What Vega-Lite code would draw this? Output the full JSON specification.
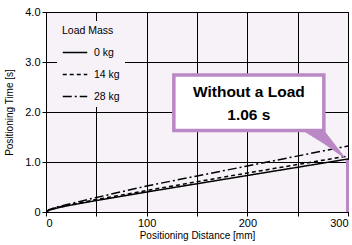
{
  "$schema": "https://vega.github.io/schema/vega-lite/v6.json",
  "width": 302,
  "height": 200,
  "autosize": {"type": "none"},
  "padding": {"left": 46, "top": 12, "right": 4, "bottom": 33},
  "background": "white",
  "config": {
    "font": "Liberation Sans",
    "view": {"fill": "#f6f2f8", "stroke": "black", "strokeWidth": 1},
    "axis": {
      "grid": true, "gridColor": "black", "gridOpacity": 1, "gridWidth": 1,
      "domainColor": "black", "tickColor": "black", "tickSize": 4,
      "labelFont": "Liberation Sans", "labelFontSize": 11, "labelColor": "black",
      "titleFont": "Liberation Sans", "titleFontSize": 10, "titleFontWeight": "normal", "titleColor": "black"
    }
  },
  "datasets": {
    "curves": [
      {"d": 0, "t": 0, "mass": "0 kg"},
      {"d": 3, "t": 0.035, "mass": "0 kg"},
      {"d": 10, "t": 0.075, "mass": "0 kg"},
      {"d": 20, "t": 0.12, "mass": "0 kg"},
      {"d": 50, "t": 0.23, "mass": "0 kg"},
      {"d": 100, "t": 0.40, "mass": "0 kg"},
      {"d": 200, "t": 0.73, "mass": "0 kg"},
      {"d": 300, "t": 1.06, "mass": "0 kg"},
      {"d": 0, "t": 0, "mass": "14 kg"},
      {"d": 3, "t": 0.04, "mass": "14 kg"},
      {"d": 10, "t": 0.085, "mass": "14 kg"},
      {"d": 20, "t": 0.13, "mass": "14 kg"},
      {"d": 50, "t": 0.25, "mass": "14 kg"},
      {"d": 100, "t": 0.43, "mass": "14 kg"},
      {"d": 200, "t": 0.78, "mass": "14 kg"},
      {"d": 300, "t": 1.12, "mass": "14 kg"},
      {"d": 0, "t": 0, "mass": "28 kg"},
      {"d": 3, "t": 0.045, "mass": "28 kg"},
      {"d": 10, "t": 0.095, "mass": "28 kg"},
      {"d": 20, "t": 0.145, "mass": "28 kg"},
      {"d": 50, "t": 0.29, "mass": "28 kg"},
      {"d": 100, "t": 0.52, "mass": "28 kg"},
      {"d": 200, "t": 0.92, "mass": "28 kg"},
      {"d": 300, "t": 1.32, "mass": "28 kg"}
    ],
    "box": [{"x1": 127, "x2": 276, "y1": 1.63, "y2": 2.74}],
    "pointer": [
      {"x": 254, "y": 1.64, "y2": 1.64},
      {"x": 276, "y": 1.64, "y2": 1.365},
      {"x": 299, "y": 1.04, "y2": 1.04}
    ],
    "vline": [{"x": 299.5, "y1": 0, "y2": 1.04}],
    "labels": [
      {"x": 201.5, "y": 2.4, "text": "Without a Load"},
      {"x": 201.5, "y": 1.94, "text": "1.06 s"}
    ]
  },
  "layer": [
    {
      "data": {"name": "curves"},
      "mark": {"type": "line", "color": "black", "strokeWidth": 1.5, "clip": true},
      "encoding": {
        "x": {
          "field": "d", "type": "quantitative",
          "scale": {"domain": [0, 300], "nice": false},
          "axis": {
            "values": [0, 50, 100, 150, 200, 250, 300],
            "labelExpr": "datum.value % 100 == 0 ? datum.label : ''",
            "title": "Positioning Distance [mm]", "titlePadding": 2, "labelPadding": 1
          }
        },
        "y": {
          "field": "t", "type": "quantitative",
          "scale": {"domain": [0, 4], "nice": false},
          "axis": {
            "values": [0, 1, 2, 3, 4],
            "labelExpr": "datum.value == 0 ? '0' : format(datum.value, '.1f')",
            "title": "Positioning Time [s]", "titlePadding": 10
          }
        },
        "strokeDash": {
          "field": "mass", "type": "nominal",
          "scale": {"domain": ["0 kg", "14 kg", "28 kg"], "range": [[1, 0], [4, 3], [9, 3, 2, 3]]},
          "legend": {
            "title": "Load Mass", "orient": "none", "legendX": 11, "legendY": 9,
            "fillColor": "#f6f2f8", "padding": 5,
            "symbolType": "stroke", "symbolSize": 600, "symbolStrokeColor": "black", "symbolStrokeWidth": 1.5,
            "titleFont": "Liberation Sans", "titleFontSize": 10.5, "titleFontWeight": "normal", "titleColor": "black",
            "labelFont": "Liberation Sans", "labelFontSize": 10.5, "labelColor": "black",
            "rowPadding": 3, "labelOffset": 6, "titlePadding": 3
          }
        }
      }
    },
    {
      "data": {"name": "vline"},
      "mark": {"type": "rule", "color": "#bb88c6", "strokeWidth": 3},
      "encoding": {
        "x": {"field": "x", "type": "quantitative"},
        "y": {"field": "y1", "type": "quantitative"},
        "y2": {"field": "y2"}
      }
    },
    {
      "data": {"name": "pointer"},
      "mark": {"type": "area", "color": "#bb88c6", "opacity": 1},
      "encoding": {
        "x": {"field": "x", "type": "quantitative"},
        "y": {"field": "y", "type": "quantitative"},
        "y2": {"field": "y2"}
      }
    },
    {
      "data": {"name": "box"},
      "mark": {"type": "rect", "fill": "white", "stroke": "#bb88c6", "strokeWidth": 3.5},
      "encoding": {
        "x": {"field": "x1", "type": "quantitative"},
        "x2": {"field": "x2"},
        "y": {"field": "y1", "type": "quantitative"},
        "y2": {"field": "y2"}
      }
    },
    {
      "data": {"name": "labels"},
      "mark": {"type": "text", "font": "Liberation Sans", "fontSize": 15.5, "fontWeight": "bold", "color": "black", "align": "center", "baseline": "middle"},
      "encoding": {
        "x": {"field": "x", "type": "quantitative"},
        "y": {"field": "y", "type": "quantitative"},
        "text": {"field": "text"}
      }
    }
  ]
}
